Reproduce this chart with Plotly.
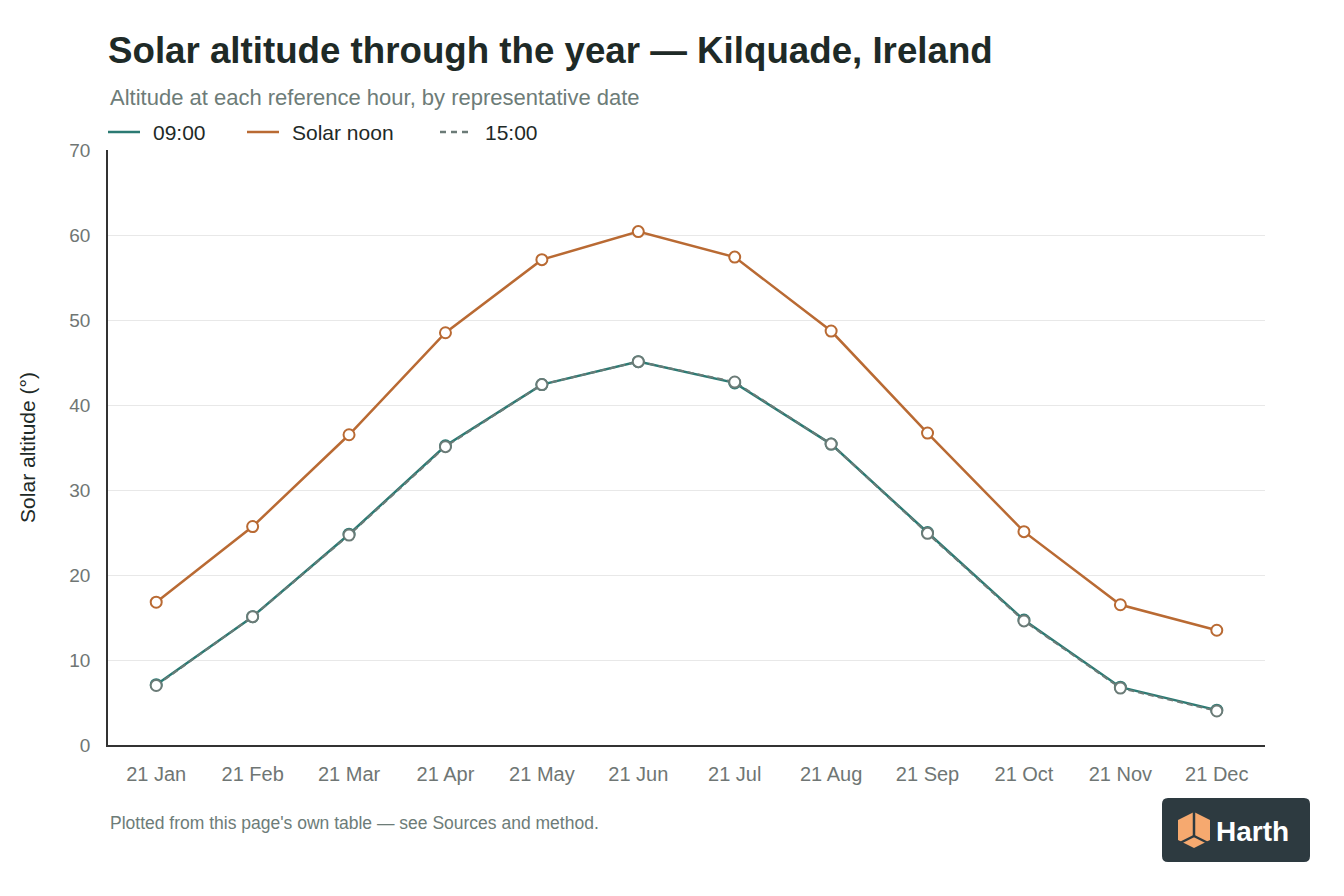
import plotly.graph_objects as go

# representative dates (21st of each month)
dates = ['21 Jan', '21 Feb', '21 Mar', '21 Apr', '21 May', '21 Jun',
         '21 Jul', '21 Aug', '21 Sep', '21 Oct', '21 Nov', '21 Dec']

# solar altitude in degrees
alt_0900 = [7.1, 15.1, 24.8, 35.2, 42.4, 45.1, 42.6, 35.4, 25.0, 14.7, 6.8, 4.1]
alt_noon = [16.8, 25.7, 36.5, 48.5, 57.1, 60.4, 57.4, 48.7, 36.7, 25.1, 16.5, 13.5]
alt_1500 = [7.0, 15.1, 24.7, 35.1, 42.4, 45.1, 42.7, 35.4, 24.9, 14.6, 6.7, 4.0]

series_names = ['09:00', 'Solar noon', '15:00']

TEAL = '#2b7a73'
ORANGE = '#b96a33'
GREY = '#6b7b77'
DARK = '#1e2a27'
MUTED = '#6d7c78'
FONT = 'Liberation Sans, Arial, Helvetica, sans-serif'

# page body has an 8px margin, so the figure sits at (8, 8)
OFF = 8
W, H = 1344 - 2 * OFF, 896 - 2 * OFF
# plot area in screen pixels
L, R, T, B = 108, 1265, 150, 745


def px(x):
    return (x - L) / (R - L)


def py(y):
    return (B - y) / (B - T)


fig = go.Figure()

fig.add_trace(go.Scatter(x=dates, y=alt_noon, mode='lines+markers', name=series_names[1],
                         line=dict(color=ORANGE, width=2.5),
                         marker=dict(size=11, color='white', line=dict(color=ORANGE, width=2))))
fig.add_trace(go.Scatter(x=dates, y=alt_0900, mode='lines+markers', name=series_names[0],
                         line=dict(color=TEAL, width=2.5),
                         marker=dict(size=11, color='white', line=dict(color=TEAL, width=2))))
fig.add_trace(go.Scatter(x=dates, y=alt_1500, mode='lines+markers', name=series_names[2],
                         line=dict(color=GREY, width=2, dash='6px,4px'),
                         marker=dict(size=11, color='white', line=dict(color=GREY, width=2))))

shapes = []
annotations = []

# hand-placed legend
legend_items = [(series_names[0], TEAL, 'solid', 108), (series_names[1], ORANGE, 'solid', 247),
                (series_names[2], GREY, '6px,5px', 440)]
for name, col, dash, x0 in legend_items:
    shapes.append(dict(type='line', xref='paper', yref='paper',
                       x0=px(x0), x1=px(x0 + 32), y0=py(132), y1=py(132),
                       line=dict(color=col, width=2.5, dash=dash)))
    annotations.append(dict(text=name, xref='paper', yref='paper', x=px(x0 + 43), y=py(132),
                            xanchor='left', yanchor='middle', showarrow=False,
                            font=dict(size=21, color=DARK)))

# Harth badge
bx0, bx1, by0, by1, rr = 1162, 1310, 798, 862, 6
path = (f'M {px(bx0 + rr)} {py(by0)} L {px(bx1 - rr)} {py(by0)} '
        f'Q {px(bx1)} {py(by0)} {px(bx1)} {py(by0 + rr)} L {px(bx1)} {py(by1 - rr)} '
        f'Q {px(bx1)} {py(by1)} {px(bx1 - rr)} {py(by1)} L {px(bx0 + rr)} {py(by1)} '
        f'Q {px(bx0)} {py(by1)} {px(bx0)} {py(by1 - rr)} L {px(bx0)} {py(by0 + rr)} '
        f'Q {px(bx0)} {py(by0)} {px(bx0 + rr)} {py(by0)} Z')
shapes.append(dict(type='path', xref='paper', yref='paper', path=path,
                   fillcolor='#2d3a40', line=dict(width=0)))
cx = 1194
hexpts = [(cx, 812), (cx + 16, 820), (cx + 16, 840), (cx, 848), (cx - 16, 840), (cx - 16, 820)]
hexpath = 'M ' + ' L '.join(f'{px(a)} {py(b)}' for a, b in hexpts) + ' Z'
shapes.append(dict(type='path', xref='paper', yref='paper', path=hexpath,
                   fillcolor='#f6a96f', line=dict(width=0)))
for (a, b) in [((cx, 812), (cx, 836)), ((cx, 836), (cx - 16, 844)), ((cx, 836), (cx + 16, 844))]:
    shapes.append(dict(type='line', xref='paper', yref='paper',
                       x0=px(a[0]), y0=py(a[1]), x1=px(b[0]), y1=py(b[1]),
                       line=dict(color='#2d3a40', width=2.5)))

annotations += [
    dict(text='Altitude at each reference hour, by representative date', xref='paper', yref='paper',
         x=0, y=py(97), xanchor='left', yanchor='middle', showarrow=False,
         font=dict(size=22, color=MUTED)),
    dict(text="Plotted from this page's own table — see Sources and method.", xref='paper', yref='paper',
         x=0, y=py(823), xanchor='left', yanchor='middle', showarrow=False,
         font=dict(size=17.5, color=MUTED)),
    dict(text='<b>Harth</b>', xref='paper', yref='paper', x=px(1214), y=py(831),
         xanchor='left', yanchor='middle', showarrow=False,
         font=dict(size=28, color='white', family=FONT)),
]

fig.update_layout(
    width=W, height=H,
    margin=dict(l=L - OFF, r=W - (R - OFF), t=T - OFF, b=H - (B - OFF)),
    paper_bgcolor='white', plot_bgcolor='white',
    showlegend=False,
    font=dict(family=FONT, color='#6f7674', size=19),
    title=dict(text='Solar altitude through the year — Kilquade, Ireland',
               x=(L - OFF) / W, xanchor='left', y=1 - (50 - OFF) / H, yanchor='middle',
               font=dict(size=36.7, color=DARK, family=FONT, weight='bold')),
    xaxis=dict(range=[-0.5, len(dates) - 0.5], showgrid=False, showline=True,
               linecolor='#333333', linewidth=1.5,
               ticks='', tickfont=dict(size=20, color='#6f7674'), ticklabelstandoff=10),
    yaxis=dict(range=[0, 70], dtick=10, showgrid=True, gridcolor='#e8e8e8', gridwidth=1,
               showline=True, linecolor='#333333', linewidth=1.5, zeroline=False,
               ticks='', tickfont=dict(size=19, color='#6f7674'), ticklabelstandoff=12,
               title=dict(text='Solar altitude (°)', font=dict(size=21, color=DARK), standoff=28)),
    shapes=shapes,
    annotations=annotations,
)

fig.write_html('out.html')
